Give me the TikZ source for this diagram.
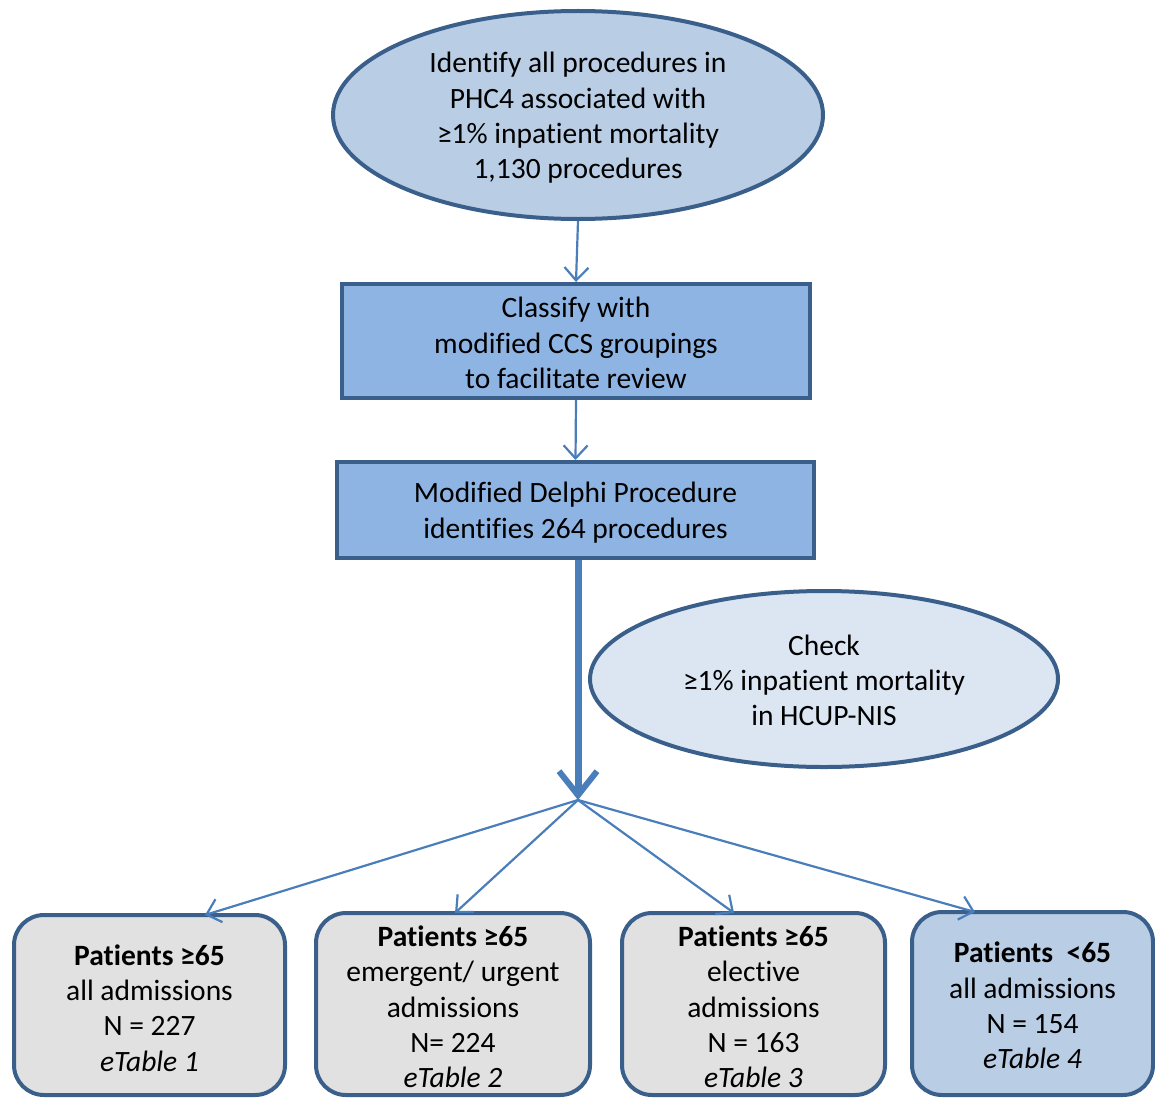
\documentclass[tikz,border=0pt]{standalone}
\usepackage{fontspec}
\setmainfont[Ligatures=NoCommon]{Carlito}
\usetikzlibrary{shapes.geometric,arrows.meta}
\definecolor{bord}{HTML}{3A5F8B}
\definecolor{arr}{HTML}{4A7EBB}
\definecolor{fillA}{HTML}{B9CDE5}
\definecolor{fillB}{HTML}{8EB4E3}
\definecolor{fillC}{HTML}{DCE6F2}
\definecolor{fillG}{HTML}{E1E1E1}
\tikzset{
  txt/.style={align=center,font=\fontsize{29.5}{35.3}\selectfont,text=black,inner sep=0pt},
  ell/.style={ellipse,draw=bord,line width=4pt,inner sep=0pt},
  sqbox/.style={rectangle,draw=bord,line width=4pt,inner sep=0pt},
  rbox/.style={rectangle,rounded corners=30pt,draw=bord,line width=4pt,inner sep=0pt},
  thin/.style={draw=arr,line width=2.2pt,-{Straight Barb[length=13pt,width=24pt,line width=2.2pt]}},
  thick/.style={draw=arr,line width=7pt,-{Straight Barb[length=24pt,width=38pt,line width=6pt]}}
}
\begin{document}
\begin{tikzpicture}[x=1pt,y=-1pt]
\useasboundingbox (0,0) rectangle (1155,1097);
% shapes
\node[ell,fill=fillA,minimum width=490pt,minimum height=208pt] (e1) at (578,115) {};
\node[sqbox,fill=fillB,minimum width=468pt,minimum height=114pt] (b1) at (576,341) {};
\node[sqbox,fill=fillB,minimum width=477pt,minimum height=96pt] (b2) at (575.5,510) {};
\node[ell,fill=fillC,minimum width=468pt,minimum height=176pt] (e2) at (824,679) {};
\coordinate (hub) at (578,800);
\node[rbox,fill=fillG,minimum width=271pt,minimum height=180pt] (p1) at (149.5,1005) {};
\node[rbox,fill=fillG,minimum width=274pt,minimum height=182pt] (p2) at (453,1004) {};
\node[rbox,fill=fillG,minimum width=263pt,minimum height=182pt] (p3) at (753.5,1004) {};
\node[rbox,fill=fillA,minimum width=241pt,minimum height=183pt] (p4) at (1032.5,1003.5) {};
% texts
\node[txt] (e1t) at ([yshift=-3pt]e1.center)
  {Identify all procedures in\\PHC4 associated with\\≥1\% inpatient mortality\\1,130 procedures};
\node[txt] (b1t) at ([yshift=-2pt]b1.center)
  {Classify with\\modified CCS groupings\\to facilitate review};
\node[txt] (b2t) at ([yshift=-2.5pt]b2.center)
  {Modified Delphi Procedure\\identifies 264 procedures};
\node[txt] (e2t) at ([yshift=-1.5pt]e2.center)
  {Check\\≥1\% inpatient mortality\\in HCUP-NIS};
\node[txt] (p1t) at ([yshift=-3pt]p1.center)
  {\textbf{Patients ≥65}\\all admissions\\N = 227\\\textit{eTable 1}};
\node[txt] (p2t) at ([yshift=-3pt]p2.center)
  {\textbf{Patients ≥65}\\emergent/ urgent\\admissions\\N= 224\\\textit{eTable 2}};
\node[txt] (p3t) at ([yshift=-3pt]p3.center)
  {\textbf{Patients ≥65}\\elective\\admissions\\N = 163\\\textit{eTable 3}};
\node[txt] (p4t) at ([yshift=-2pt]p4.center)
  {\textbf{Patients\ \ <65}\\all admissions\\N = 154\\\textit{eTable 4}};
% connectors
\draw[thin] (e1.south) -- (b1.north);
\draw[thin] (b1.south) -- (b2.north);
\draw[thick] (b2.south -| hub) -- (hub);
\draw[thin] (hub) -- (205,915);
\draw[thin] (hub) -- (455,913);
\draw[thin] (hub) -- (734,913);
\draw[thin] (hub) -- (975,912);
\end{tikzpicture}
\end{document}
